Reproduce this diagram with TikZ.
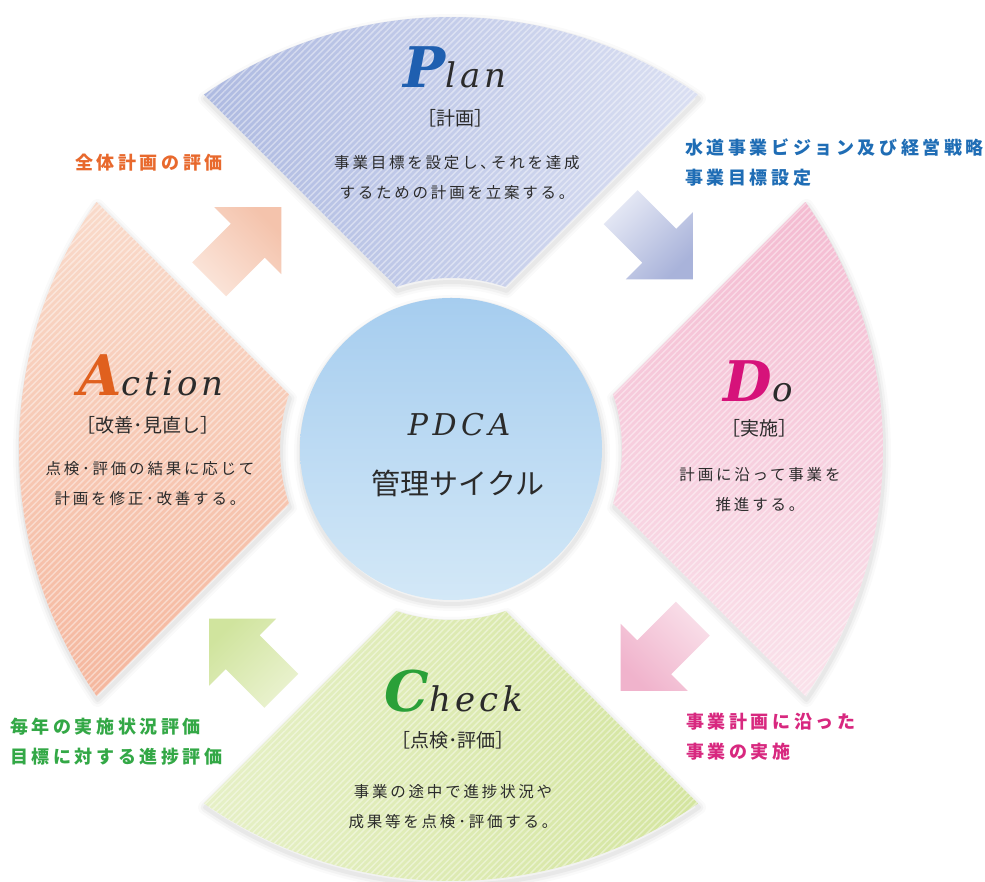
\documentclass[tikz,border=0pt]{standalone}
\usepackage{fontspec}
\setmainfont{Noto Sans CJK JP}
\newfontfamily\jp{Noto Sans CJK JP}
\newfontfamily\ser{DejaVu Serif}
\usetikzlibrary{calc,patterns.meta}
\definecolor{pblue}{HTML}{1F5FB0}
\definecolor{dmag}{HTML}{D6127A}
\definecolor{cgreen}{HTML}{2AA038}
\definecolor{aorange}{HTML}{E0601E}
\definecolor{textc}{HTML}{2B2B2B}
\definecolor{lblorange}{HTML}{E8692D}
\definecolor{lblblue}{HTML}{1F6DB5}
\definecolor{lblmag}{HTML}{D8287F}
\definecolor{lblgreen}{HTML}{33A846}
\definecolor{planA}{HTML}{AEBAE1}
\definecolor{planB}{HTML}{DADFF2}
\definecolor{doA}{HTML}{F4BBD1}
\definecolor{doB}{HTML}{FAE2EB}
\definecolor{chA}{HTML}{E6F0C6}
\definecolor{chB}{HTML}{D4E59F}
\definecolor{acA}{HTML}{F9DACA}
\definecolor{acB}{HTML}{F5B79E}
\definecolor{hubA}{HTML}{A6CDEF}
\definecolor{hubB}{HTML}{D3E8F7}
\definecolor{ar1t}{HTML}{E6E9F5}
\definecolor{ar1h}{HTML}{A9B3DA}
\definecolor{ar2t}{HTML}{F9DFE9}
\definecolor{ar2h}{HTML}{F0B3CC}
\definecolor{ar3t}{HTML}{EAF2CF}
\definecolor{ar3h}{HTML}{D0E49E}
\definecolor{ar4t}{HTML}{FBE5DA}
\definecolor{ar4h}{HTML}{F4C3AC}
\newcommand\blockarrow[5]{%
 \shade[shading=axis, bottom color=#3, top color=#4, shading angle=#5]
 ($(#1)+({#2+180}:51)+({#2+90}:-24)$) -- ($(#1)+(#2:3.6)+({#2+90}:-24)$) --
 ($(#1)+(#2:3.6)+({#2+90}:-47.4)$) -- ($(#1)+(#2:51)$) --
 ($(#1)+(#2:3.6)+({#2+90}:47.4)$) -- ($(#1)+(#2:3.6)+({#2+90}:24)$) --
 ($(#1)+({#2+180}:51)+({#2+90}:24)$) -- cycle;}
\begin{document}
\begin{tikzpicture}[x=1pt,y=1pt,
  sector/.style={insert path={($(C)+({#1-34.87}:432)$) arc[start angle={#1-34.87}, end angle={#1+34.87}, radius=432] -- ($(C)+({#1+18.61}:171)$) arc[start angle={#1+18.61}, end angle={#1-18.61}, radius=171] -- cycle}},
  stripes/.style={pattern={Lines[angle=45,distance=4.5pt,line width=1.5pt]}, pattern color=white, opacity=0.4},
  body/.style={align=center, text=textc, font=\jp\fontsize{15.5}{30}\selectfont\addfontfeature{LetterSpace=18}},
  brk/.style={text=textc, font=\jp\fontsize{19}{19}\selectfont},
  side/.style={align=left, anchor=west, inner sep=0, font=\jp\bfseries\fontsize{18}{30}\selectfont\addfontfeature{LetterSpace=20}},
  ttl/.style={anchor=base, inner sep=0, text=textc}
]
\useasboundingbox (0,0) rectangle (985,882);
\fill[white] (0,0) rectangle (985,882);
\coordinate (C) at (451,433);
% soft shadows
\foreach \a in {90,0,270,180}{
  \foreach \w/\o in {14/0.02,9/0.03,4/0.04}{
    \draw[sector=\a, line width=\w pt, draw=black, draw opacity=\o, line join=round, transform canvas={shift={(1pt,-4pt)}}];
  }
}
\foreach \w/\o in {14/0.02,9/0.03,4/0.04}{
  \draw[line width=\w pt, draw=black, draw opacity=\o, transform canvas={shift={(1pt,-4pt)}}] (C) circle[radius=151];
}
% sectors
\shade[sector=90, left color=planA, right color=planB];
\fill[sector=90, stripes];
\shade[sector=0, top color=doA, bottom color=doB];
\fill[sector=0, stripes];
\shade[sector=270, left color=chA, right color=chB];
\fill[sector=270, stripes];
\shade[sector=180, top color=acA, bottom color=acB];
\fill[sector=180, stripes];
% arrows
\coordinate (M1) at ($(C)+(45:291)$);
\coordinate (M2) at ($(C)+(-45:291)$);
\coordinate (M3) at ($(C)+(-135:291)$);
\coordinate (M4) at ($(C)+(135:291)$);
\blockarrow{M1}{-45}{ar1t}{ar1h}{-135}
\blockarrow{M2}{-135}{ar2t}{ar2h}{135}
\blockarrow{M3}{135}{ar3t}{ar3h}{45}
\blockarrow{M4}{45}{ar4t}{ar4h}{-45}
% hub
\node[circle, minimum size=302pt, inner sep=0, top color=hubA, bottom color=hubB] (hub) at (C) {};
\node[text=textc] (pdca) at (459,457) {\ser\itshape\fontsize{30}{30}\selectfont\addfontfeature{LetterSpace=15}PDCA};
\node[text=textc] (kanri) at (458,399) {\jp\fontsize{29}{29}\selectfont 管理サイクル};
% Plan
\node[ttl] (ptitle) at (455,794) {\ser\itshape{\fontsize{56}{56}\selectfont\bfseries\color{pblue}P}\fontsize{34}{34}\selectfont\addfontfeature{LetterSpace=12}lan};
\node[brk] (pbrk) at (455,764) {［計画］};
\node[body] (pbody) at (457,704) {事業目標を設定し､それを達成\\するための計画を立案する。};
% Do
\node[ttl] (dtitle) at (758,480) {\ser\itshape{\fontsize{56}{56}\selectfont\bfseries\color{dmag}D}\fontsize{34}{34}\selectfont o};
\node[brk] (dbrk) at (759,454) {［実施］};
\node[body] (dbody) at (760,392) {計画に沿って事業を\\推進する。};
% Check
\node[ttl] (ctitle) at (454,170) {\ser\itshape{\fontsize{56}{56}\selectfont\bfseries\color{cgreen}C}\fontsize{34}{34}\selectfont\addfontfeature{LetterSpace=12}heck};
\node[brk] (cbrk) at (453,142) {［点検･評価］};
\node[body] (cbody) at (453,75) {事業の途中で進捗状況や\\成果等を点検･評価する。};
% Action
\node[ttl] (atitle) at (151,486) {\ser\itshape{\fontsize{56}{56}\selectfont\bfseries\color{aorange}A}\fontsize{34}{34}\selectfont\addfontfeature{LetterSpace=12}ction};
\node[brk] (abrk) at (148,457) {［改善･見直し］};
\node[body] (abody) at (150,398) {点検･評価の結果に応じて\\計画を修正･改善する。};
% side labels
\node[side, text=lblorange] (l1) at (75,719) {全体計画の評価};
\node[side, text=lblblue] (l2) at (685,719) {水道事業ビジョン及び経営戦略\\事業目標設定};
\node[side, text=lblmag] (l3) at (686,145) {事業計画に沿った\\事業の実施};
\node[side, text=lblgreen] (l4) at (10,140) {毎年の実施状況評価\\目標に対する進捗評価};
\end{tikzpicture}
\end{document}
